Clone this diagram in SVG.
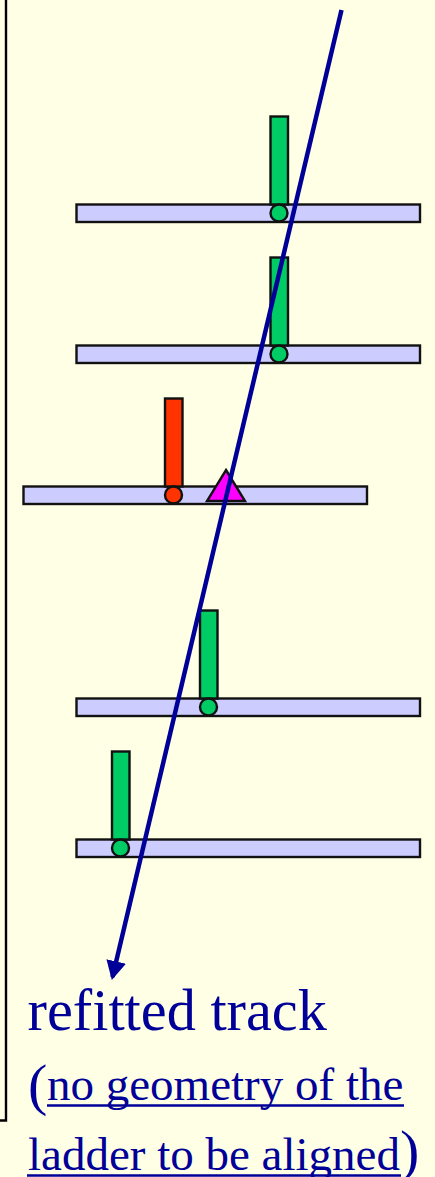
<svg xmlns="http://www.w3.org/2000/svg" width="435" height="1177" viewBox="0 0 435 1177">
<style>
.l{fill:#ccccff;stroke:#111;stroke-width:2.400}
.g{fill:#00cc66;stroke:#111;stroke-width:2.400}
.r{fill:#ff3300;stroke:#111;stroke-width:2.400}
text{font-family:"Liberation Serif","Times New Roman",serif;fill:#000099}
.ul{stroke:#000099;stroke-width:2.500;fill:none}
</style>
<defs><marker id="a" markerUnits="userSpaceOnUse" markerWidth="22" markerHeight="22" refX="16" refY="10" orient="auto"><path d="M0 0L19 10L0 20Z" fill="#000099"/></marker></defs>
<rect width="435" height="1177" fill="#ffffe5"/>
<path id="frame" d="M6 0V1120.500H0" fill="none" stroke="#000" stroke-width="2.400"/>
<g id="ladder1"><rect class="l" x="76.500" y="204.500" width="343.500" height="17.500"/><rect class="g" x="270.500" y="116.500" width="17.500" height="88"/><circle class="g" cx="279" cy="213" r="8.500"/></g>
<g id="ladder2"><rect class="l" x="76.500" y="345.500" width="343.500" height="17.500"/><rect class="g" x="270.500" y="257.500" width="17.500" height="88"/><circle class="g" cx="279" cy="354" r="8.500"/></g>
<g id="ladder3"><rect class="l" x="23.500" y="486.500" width="343.500" height="17.500"/><rect class="r" x="165" y="398.500" width="17.500" height="88"/><circle class="r" cx="173.500" cy="495" r="8.500"/><path d="M226 470L245 501H207Z" fill="#ff00ff" stroke="#111" stroke-width="2.400"/></g>
<g id="ladder4"><rect class="l" x="76.500" y="698.500" width="343.500" height="17.500"/><rect class="g" x="200" y="610.500" width="17.500" height="88"/><circle class="g" cx="208.500" cy="707" r="8.500"/></g>
<g id="ladder5"><rect class="l" x="76.500" y="839.500" width="343.500" height="17.500"/><rect class="g" x="112" y="751.500" width="17.500" height="88"/><circle class="g" cx="120.500" cy="848" r="8.500"/></g>
<g id="connectors"><line x1="341.500" y1="10" x2="112.500" y2="977" stroke="#000099" stroke-width="4.500" marker-end="url(#a)"/></g>
<g id="labels">
<text x="27.500" y="1030" font-size="58.300">refitted track</text>
<text x="28" y="1104" font-size="58">(</text>
<text x="47" y="1100" font-size="47">no geometry of the</text>
<path class="ul" d="M47 1105.500H404"/>
<text x="28" y="1170" font-size="47">ladder to be aligned</text>
<path class="ul" d="M27 1175.500H401"/>
<text x="400" y="1170" font-size="58">)</text>
</g>
</svg>
